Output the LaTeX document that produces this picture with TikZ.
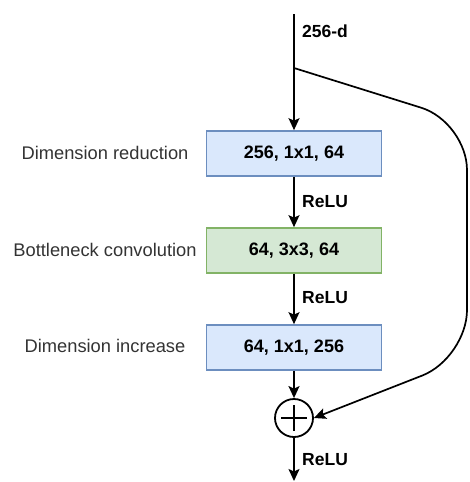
\documentclass[tikz,border=0pt]{standalone}
\usepackage{fontspec}
\setmainfont{Liberation Sans}
\usetikzlibrary{arrows.meta}
\definecolor{bluefill}{HTML}{DAE8FC}
\definecolor{blueline}{HTML}{6C8EBF}
\definecolor{greenfill}{HTML}{D5E8D4}
\definecolor{greenline}{HTML}{82B366}
\definecolor{labelgray}{HTML}{333333}
\begin{document}
\begin{tikzpicture}[x=1pt,y=-1pt,
  conn/.style={line width=1.7pt, -{Stealth[length=12pt,width=11pt,inset=2.5pt]}},
  layer/.style={draw, line width=1.7pt, minimum width=175pt, minimum height=45pt, inner sep=0pt,
    font=\bfseries\fontsize{18}{21}\selectfont},
  bluelayer/.style={layer, fill=bluefill, draw=blueline},
  greenlayer/.style={layer, fill=greenfill, draw=greenline},
  sidelabel/.style={font=\fontsize{18.3}{21}\selectfont, text=labelgray},
  edgelabel/.style={anchor=west, inner sep=0pt, font=\bfseries\fontsize{17.5}{20}\selectfont},
  sumnode/.style={circle, draw, line width=1.8pt, minimum size=38pt, inner sep=0pt,
    path picture={\draw[line width=1.8pt] ([xshift=-13pt]path picture bounding box.center) -- ([xshift=13pt]path picture bounding box.center)
      ([yshift=-13pt]path picture bounding box.center) -- ([yshift=13pt]path picture bounding box.center);}},
]
\useasboundingbox (0,0) rectangle (469,482);

\coordinate (top) at (294,14);
\coordinate (branch) at (294,68);
\coordinate (out) at (294,481);

\node[bluelayer] (b1) at (294,153.5) {256, 1x1, 64};
\node[greenlayer] (b2) at (294,250.5) {64, 3x3, 64};
\node[bluelayer] (b3) at (294,347.5) {64, 1x1, 256};
\node[sumnode] (sum) at (294,418) {};

\node[sidelabel] (l1) at (105,153) {Dimension reduction};
\node[sidelabel] (l2) at (105,250) {Bottleneck convolution};
\node[sidelabel] (l3) at (105,346) {Dimension increase};

\node[edgelabel] (d) at (302,31) {256-d};
\node[edgelabel] (r1) at (302,202) {ReLU};
\node[edgelabel] (r2) at (302,298) {ReLU};
\node[edgelabel] (r3) at (302,460) {ReLU};

\draw[conn] (top) -- (b1.north);
\draw[conn] (b1) -- (b2);
\draw[conn] (b2) -- (b3);
\draw[conn] (b3) -- (sum);
\draw[conn] (sum) -- (out);
\draw[conn, rounded corners=48pt] (branch) -- (467,122) -- (467,358) -- (sum.east);
\end{tikzpicture}
\end{document}
